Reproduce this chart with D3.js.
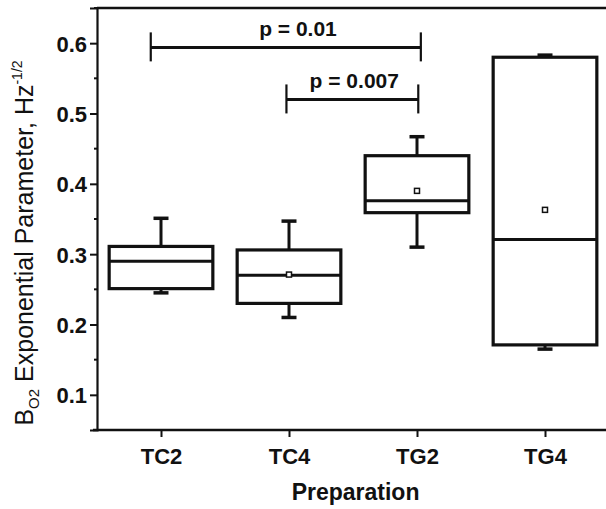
<!DOCTYPE html>
<html>
<head>
<meta charset="utf-8">
<script src="https://cdn.jsdelivr.net/npm/d3@7/dist/d3.min.js"></script>
<style>
  body { margin: 0; background: #fff; }
  svg text { font-family: "Liberation Sans", Arial, sans-serif; fill: #111; }
  .tick-label { font-weight: bold; font-size: 22px; }
</style>
</head>
<body>
<div id="chart"></div>
<script>
const WIDTH = 606, HEIGHT = 509;
const M = { top: 8, right: -3, bottom: 79, left: 97 };

// data
const categories = ["TC2", "TC4", "TG2", "TG4"];
const whiskerLow = [0.245, 0.210, 0.310, 0.165];
const q1 = [0.251, 0.230, 0.359, 0.171];
const median = [0.290, 0.270, 0.376, 0.321];
const q3 = [0.311, 0.306, 0.440, 0.580];
const whiskerHigh = [0.351, 0.347, 0.467, 0.583];
const mean = [null, 0.271, 0.390, 0.363]; // TC2 marker not visible
const yTicks = [0.1, 0.2, 0.3, 0.4, 0.5, 0.6];
const yMinor = [0.05, 0.15, 0.25, 0.35, 0.45, 0.55, 0.65];

// significance brackets: from/to in category units, level in y units, label x
const bracketFrom = [0.92, 1.98];
const bracketTo = [3.03, 3.01];
const bracketLevel = [0.594, 0.52];
const bracketLabel = ["p = 0.01", "p = 0.007"];
const bracketLabelX = [2.07, 2.51];

const rows = categories.map((c, i) => ({
  cat: c, pos: i + 1, lo: whiskerLow[i], q1: q1[i], med: median[i],
  q3: q3[i], hi: whiskerHigh[i], mean: mean[i]
}));

const svg = d3.select("#chart").append("svg")
  .attr("width", WIDTH).attr("height", HEIGHT);

const x = d3.scaleLinear().domain([0.5, 4.5]).range([M.left, WIDTH - M.right]);
const y = d3.scaleLinear().domain([0.05, 0.65]).range([HEIGHT - M.bottom, M.top]);

const boxW = (x(2) - x(1)) * 0.81;
const capW = 15;

// frame: top line and axes
svg.append("line")
  .attr("x1", x(0.5)).attr("x2", WIDTH).attr("y1", y(0.65)).attr("y2", y(0.65))
  .attr("stroke", "#111").attr("stroke-width", 2.5);

const yAxis = svg.append("g")
  .attr("transform", `translate(${M.left},0)`)
  .call(d3.axisLeft(y).tickValues(yTicks).tickSize(7).tickPadding(3).tickFormat(d3.format(".1f")));
yAxis.select(".domain").attr("stroke-width", 2.2).attr("stroke", "#111");
yAxis.selectAll(".tick line").attr("stroke-width", 2).attr("stroke", "#111");
yAxis.selectAll(".tick text").attr("class", "tick-label").attr("dy", "0.36em");

svg.append("g")
  .selectAll("line").data(yMinor).join("line")
  .attr("x1", M.left - 3).attr("x2", M.left)
  .attr("y1", d => y(d)).attr("y2", d => y(d))
  .attr("stroke", "#111").attr("stroke-width", 2);

const xAxis = svg.append("g")
  .attr("transform", `translate(0,${y(0.05)})`)
  .call(d3.axisBottom(x).tickValues([1, 2, 3, 4]).tickSize(7).tickPadding(11)
    .tickFormat(d => categories[d - 1]).tickSizeOuter(0));
xAxis.select(".domain").attr("stroke-width", 2.5).attr("stroke", "#111")
  .attr("d", `M${M.left - 4},0H${WIDTH}`);
xAxis.selectAll(".tick line").attr("stroke-width", 2).attr("stroke", "#111");
xAxis.selectAll(".tick text").attr("class", "tick-label");

// boxes
const box = svg.append("g").selectAll("g").data(rows).join("g");

box.append("line")
  .attr("x1", d => x(d.pos)).attr("x2", d => x(d.pos))
  .attr("y1", d => y(d.hi)).attr("y2", d => y(d.q3))
  .attr("stroke", "#111").attr("stroke-width", 3);
box.append("line")
  .attr("x1", d => x(d.pos)).attr("x2", d => x(d.pos))
  .attr("y1", d => y(d.lo)).attr("y2", d => y(d.q1))
  .attr("stroke", "#111").attr("stroke-width", 3);
box.append("line")
  .attr("x1", d => x(d.pos) - capW / 2).attr("x2", d => x(d.pos) + capW / 2)
  .attr("y1", d => y(d.hi)).attr("y2", d => y(d.hi))
  .attr("stroke", "#111").attr("stroke-width", 3.5);
box.append("line")
  .attr("x1", d => x(d.pos) - capW / 2).attr("x2", d => x(d.pos) + capW / 2)
  .attr("y1", d => y(d.lo)).attr("y2", d => y(d.lo))
  .attr("stroke", "#111").attr("stroke-width", 3.5);

box.append("rect")
  .attr("x", d => x(d.pos) - boxW / 2).attr("width", boxW)
  .attr("y", d => y(d.q3)).attr("height", d => y(d.q1) - y(d.q3))
  .attr("fill", "#fff").attr("stroke", "#111").attr("stroke-width", 3.2);

box.append("line")
  .attr("x1", d => x(d.pos) - boxW / 2).attr("x2", d => x(d.pos) + boxW / 2)
  .attr("y1", d => y(d.med)).attr("y2", d => y(d.med))
  .attr("stroke", "#111").attr("stroke-width", 3);

box.filter(d => d.mean != null).append("rect")
  .attr("x", d => x(d.pos) - 2.5).attr("y", d => y(d.mean) - 2.5)
  .attr("width", 5).attr("height", 5)
  .attr("fill", "#fff").attr("stroke", "#111").attr("stroke-width", 1.5);

// significance brackets
const br = svg.append("g").selectAll("g").data(bracketLabel).join("g");
br.append("line")
  .attr("x1", (d, i) => x(bracketFrom[i])).attr("x2", (d, i) => x(bracketTo[i]))
  .attr("y1", (d, i) => y(bracketLevel[i])).attr("y2", (d, i) => y(bracketLevel[i]))
  .attr("stroke", "#111").attr("stroke-width", 3);
br.append("line")
  .attr("x1", (d, i) => x(bracketFrom[i])).attr("x2", (d, i) => x(bracketFrom[i]))
  .attr("y1", (d, i) => y(bracketLevel[i]) - 15).attr("y2", (d, i) => y(bracketLevel[i]) + 14)
  .attr("stroke", "#111").attr("stroke-width", 2.2);
br.append("line")
  .attr("x1", (d, i) => x(bracketTo[i])).attr("x2", (d, i) => x(bracketTo[i]))
  .attr("y1", (d, i) => y(bracketLevel[i]) - 15).attr("y2", (d, i) => y(bracketLevel[i]) + 14)
  .attr("stroke", "#111").attr("stroke-width", 2.2);
br.append("text")
  .attr("x", (d, i) => x(bracketLabelX[i])).attr("y", (d, i) => y(bracketLevel[i]) - 11)
  .attr("text-anchor", "middle").attr("font-weight", "bold").attr("font-size", 21)
  .text(d => d);

// axis titles
svg.append("text")
  .attr("x", x(2.52)).attr("y", 500)
  .attr("text-anchor", "middle").attr("font-weight", "bold").attr("font-size", 23)
  .text("Preparation");

const yt = svg.append("text")
  .attr("transform", `translate(33, 243) rotate(-90)`)
  .attr("text-anchor", "middle").attr("font-size", 25);
yt.append("tspan").text("B");
yt.append("tspan").attr("font-size", 15).attr("dy", 6).text("O2");
yt.append("tspan").attr("dy", -6).text(" Exponential Parameter, Hz");
yt.append("tspan").attr("font-size", 14).attr("dy", -11).text("-1/2");
</script>
</body>
</html>
